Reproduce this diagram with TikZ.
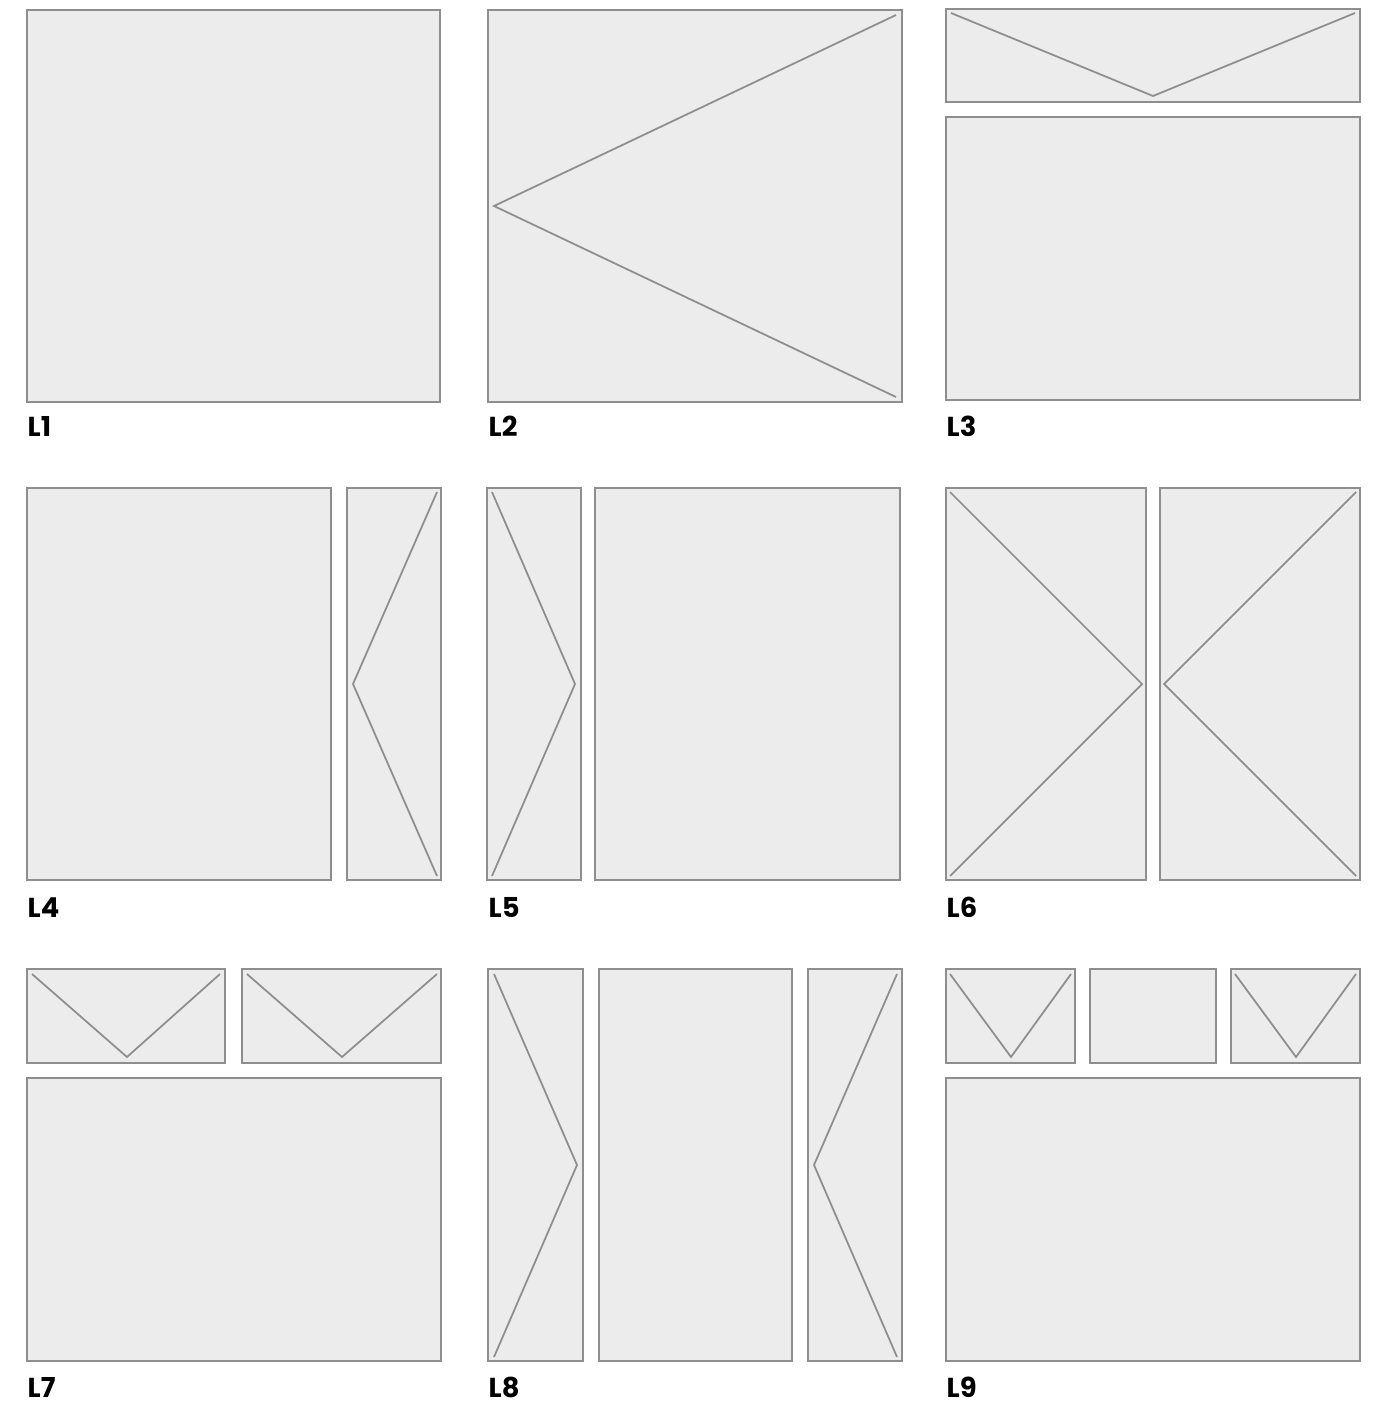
\documentclass[tikz,border=0pt]{standalone}
\usepackage{fontspec}
\setmainfont{Poppins}
\definecolor{panelfill}{HTML}{ECECEC}
\definecolor{panelline}{HTML}{8E8E8E}
\tikzset{
  panel/.style={draw=panelline, fill=panelfill, line width=0.6pt},
  guide/.style={draw=panelline, line width=0.5pt},
  lab/.style={anchor=base west, inner sep=0pt, font=\fontsize{7.8}{9}\selectfont\bfseries}
}
\begin{document}
\begin{tikzpicture}[x=0.01cm, y=-0.01cm]
  \useasboundingbox (0,0) rectangle (1383,1403);
  % panels
  \foreach \xa/\ya/\xb/\yb in {27/10/440/402, 488/10/902/402, 946/9/1360/102, 946/117/1360/400,
      27/488/331/880, 347/488/441/880, 487/488/581/880, 595/488/900/880, 946/488/1146/880, 1160/488/1360/880,
      27/969/225/1063, 242/969/441/1063, 27/1078/441/1361,
      488/969/583/1361, 599/969/792/1361, 808/969/902/1361,
      946/969/1075/1063, 1090/969/1216/1063, 1231/969/1360/1063, 946/1078/1360/1361}
    \draw[panel] (\xa,\ya) rectangle (\xb,\yb);
  % chevrons
  \foreach \xa/\ya/\xm/\ym/\xb/\yb in {896/15/494/206/896/397, 951/13/1153/96/1355/13,
      437/492/353/684/437/876, 492/492/575/684/492/876,
      950/492/1142/684/950/876, 1356/492/1164/684/1356/876,
      32/974/127/1057/220/974, 247/974/342/1057/437/974,
      494/974/577/1165/494/1357, 897/974/814/1165/897/1357,
      950/974/1011/1057/1071/974, 1235/974/1296/1057/1356/974}
    \draw[guide] (\xa,\ya) -- (\xm,\ym) -- (\xb,\yb);
  % labels
  \foreach \x/\y/\n in {27/436/1, 488/436/2, 946/436/3, 27/917/4, 488/917/5, 946/917/6, 27/1397/7, 488/1397/8, 946/1397/9}
    \node[lab] (L\n) at (\x,\y) {L\n};
\end{tikzpicture}
\end{document}
